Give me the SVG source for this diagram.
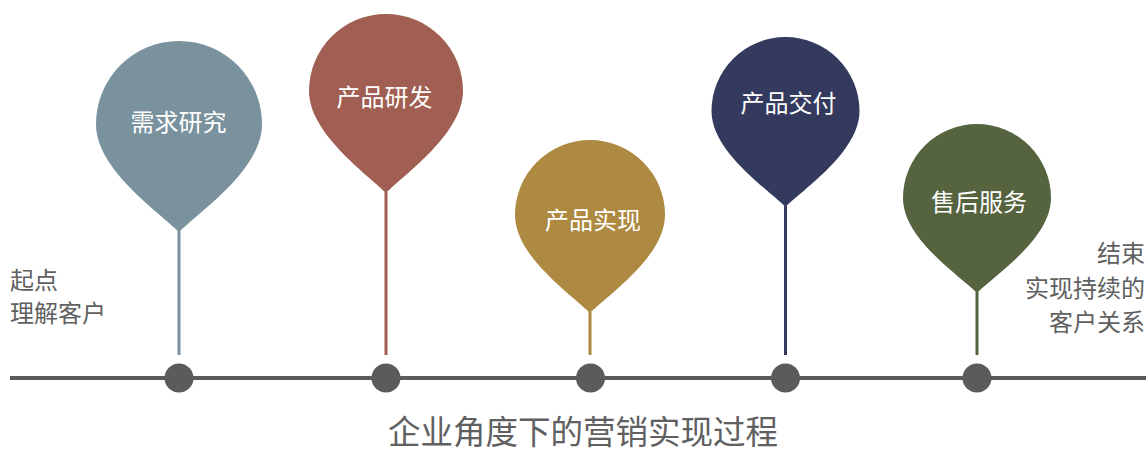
<svg xmlns="http://www.w3.org/2000/svg" width="1146" height="451" viewBox="0 0 1146 451">
  <style>
    .pin-label { font-family: "Noto Sans CJK SC", "Noto Sans", sans-serif; font-size: 24px; fill: #ffffff; text-anchor: middle; }
    .side { font-family: "Noto Sans CJK SC", "Noto Sans", sans-serif; font-size: 24px; fill: #606060; }
    .title { font-family: "Noto Sans CJK SC", "Noto Sans", sans-serif; font-size: 32.5px; fill: #606060; text-anchor: middle; }
    .dot { fill: #5b5b5b; }
    .stem { stroke-width: 3; fill: none; }
  </style>
  <rect width="1146" height="451" fill="#ffffff"/>

  <g id="connectors">
    <line x1="10" y1="378" x2="1146" y2="378" stroke="#5b5b5b" stroke-width="4"/>
    <line class="stem" x1="179" y1="231" x2="179" y2="355" stroke="#7a929d"/>
    <line class="stem" x1="386" y1="192" x2="386" y2="355" stroke="#a05f52"/>
    <line class="stem" x1="590" y1="312" x2="590" y2="355" stroke="#ad8942"/>
    <line class="stem" x1="785.5" y1="206" x2="785.5" y2="355" stroke="#343a5e"/>
    <line class="stem" x1="977" y1="292" x2="977" y2="355" stroke="#55633f"/>
  </g>

  <g id="node-start">
    <text class="side" x="10" y="289">起点</text>
    <text class="side" x="10" y="321.5">理解客户</text>
  </g>

  <g id="node-research">
    <path d="M179,232 C158.25,211.25 96,169.650 96,124 A83,83 0 0 1 262,124 C262,169.65 199.75,211.25 179,232 Z" fill="#7a929d"/>
    <text class="pin-label" x="178.5" y="131">需求研究</text>
    <circle class="dot" cx="179" cy="378" r="14.5"/>
  </g>

  <g id="node-develop">
    <path d="M386,193 C366.75,173.75 309,133.35 309,91 A77,77 0 0 1 463,91 C463,133.35 405.25,173.75 386,193 Z" fill="#a05f52"/>
    <text class="pin-label" x="384.5" y="106">产品研发</text>
    <circle class="dot" cx="386" cy="378" r="14.5"/>
  </g>

  <g id="node-implement">
    <path d="M590,313 C571.25,294.25 515,256.25 515,215 A75,75 0 0 1 665,215 C665,256.25 608.75,294.25 590,313 Z" fill="#ad8942"/>
    <text class="pin-label" x="593" y="228.5">产品实现</text>
    <circle class="dot" cx="590.5" cy="378" r="14.5"/>
  </g>

  <g id="node-deliver">
    <path d="M785.5,207 C767,188.5 711.5,151.7 711.5,111 A74,74 0 0 1 859.5,111 C859.5,151.7 804,188.5 785.5,207 Z" fill="#343a5e"/>
    <text class="pin-label" x="788.5" y="112">产品交付</text>
    <circle class="dot" cx="785.5" cy="378" r="14.5"/>
  </g>

  <g id="node-service">
    <path d="M977,293 C958.5,274.5 903,238.7 903,198 A74,74 0 0 1 1051,198 C1051,238.7 995.5,274.5 977,293 Z" fill="#55633f"/>
    <text class="pin-label" x="979" y="211">售后服务</text>
    <circle class="dot" cx="977" cy="378" r="14.5"/>
  </g>

  <g id="node-end">
    <text class="side" x="1145" y="262" text-anchor="end">结束</text>
    <text class="side" x="1145" y="296.5" text-anchor="end">实现持续的</text>
    <text class="side" x="1145" y="331" text-anchor="end">客户关系</text>
  </g>

  <text class="title" x="583" y="444">企业角度下的营销实现过程</text>
</svg>
